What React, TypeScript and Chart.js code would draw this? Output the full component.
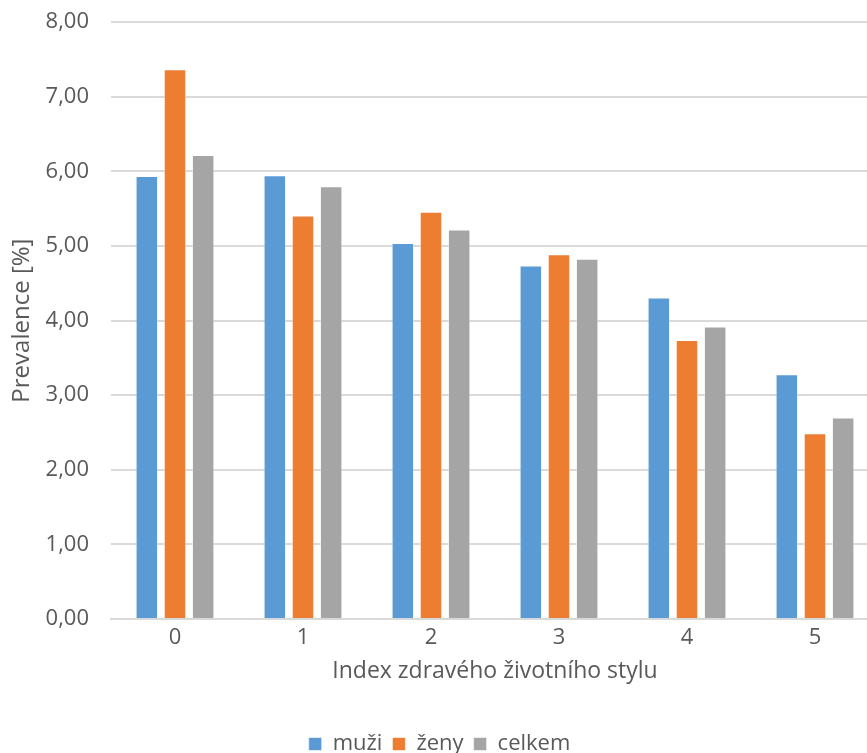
import React, { useEffect, useRef } from "react";
import { Chart, registerables } from "chart.js";

Chart.register(...registerables);

const categories = ["0", "1", "2", "3", "4", "5"];
const muzi = [5.94, 5.95, 5.04, 4.74, 4.31, 3.28];
const zeny = [7.37, 5.41, 5.46, 4.89, 3.74, 2.49];
const celkem = [6.22, 5.8, 5.22, 4.83, 3.92, 2.7];
const seriesNames = ["muži", "ženy", "celkem"];
const colors = ["#5B9BD5", "#ED7D31", "#A5A5A5"];
const yTickValues = [0, 1, 2, 3, 4, 5, 6, 7, 8];

const FONT = "'Open Sans', 'Noto Sans', sans-serif";
const TEXT = "#595959";

export default function App() {
  const ref = useRef<HTMLCanvasElement | null>(null);

  useEffect(() => {
    if (!ref.current) return;
    const chart = new Chart(ref.current, {
      type: "bar",
      data: {
        labels: categories,
        datasets: [muzi, zeny, celkem].map((d, i) => ({
          label: seriesNames[i],
          data: d,
          backgroundColor: colors[i],
          borderColor: "rgba(255,255,255,0.6)",
          borderWidth: 1,
          categoryPercentage: 0.66,
          barPercentage: 0.8,
        })),
      },
      options: {
        animation: false,
        responsive: false,
        layout: { padding: { top: 0, left: 0, right: 1, bottom: 0 } },
        plugins: {
          legend: {
            position: "bottom",
            labels: {
              font: { family: FONT, size: 22 },
              color: TEXT,
              boxWidth: 13,
              boxHeight: 13,
              padding: 10,
            },
          },
          tooltip: { enabled: false },
        },
        scales: {
          x: {
            grid: { display: false, drawTicks: false },
            border: { display: true, color: "#D9D9D9", width: 2 },
            ticks: { font: { family: FONT, size: 22 }, color: TEXT, padding: 6 },
            title: {
              display: true,
              text: "Index zdravého životního stylu",
              font: { family: FONT, size: 23 },
              color: TEXT,
              padding: { top: 0, bottom: 38 },
            },
          },
          y: {
            min: 0,
            max: 8,
            afterBuildTicks: (axis: any) => {
              axis.ticks = yTickValues.map((v) => ({ value: v }));
            },
            afterFit: (axis: any) => {
              axis.width = 111;
            },
            grid: { color: "#D9D9D9", lineWidth: 2, drawTicks: false },
            border: { display: false },
            ticks: {
              font: { family: FONT, size: 22 },
              color: TEXT,
              padding: 22,
              callback: (v: any) => Number(v).toFixed(2).replace(".", ","),
            },
            title: {
              display: true,
              text: "Prevalence [%]",
              font: { family: FONT, size: 24 },
              color: TEXT,
              padding: { top: 8, bottom: 8 },
            },
          },
        },
      },
    });
    return () => chart.destroy();
  }, []);

  return (
    <div
      style={{
        position: "absolute",
        left: 0,
        top: 0,
        width: 867,
        height: 753,
        overflow: "hidden",
        background: "#fff",
      }}
    >
      <canvas
        ref={ref}
        width={880}
        height={778}
        style={{ display: "block", position: "relative", top: -13 }}
      />
    </div>
  );
}
